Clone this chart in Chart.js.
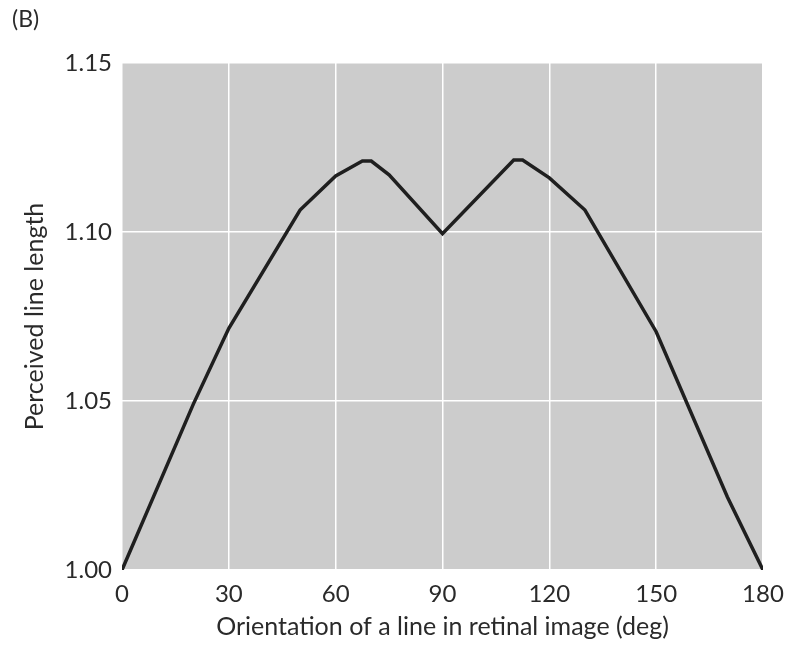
<!DOCTYPE html>
<html>
<head>
<meta charset="utf-8">
<script src="https://cdn.jsdelivr.net/npm/chart.js@4"></script>
<style>
  body { margin: 0; background: #fff; }
  #wrap { width: 795px; height: 647px; }
</style>
</head>
<body>
<div id="wrap"><canvas id="lineChart"></canvas></div>
<script>
// orientation (deg) and perceived length
const orientations = [0, 20, 30, 50, 60, 67.5, 70, 75, 90, 110, 112.5, 120, 130, 150, 170, 180];
const perceived = [1.000, 1.049, 1.0715, 1.1065, 1.1166, 1.121, 1.121, 1.1169, 1.0995, 1.1213, 1.1213, 1.116, 1.1065, 1.0705, 1.0216, 1.000];
const xTicks = [0, 30, 60, 90, 120, 150, 180];
const yTicks = [1.00, 1.05, 1.10, 1.15];

const textColor = '#2a2a2a';
const fontFamily = 'Lato, "Open Sans", sans-serif';

// grey plot background + the "(B)" panel letter
const panelDecor = {
  id: 'panelDecor',
  beforeDraw(chart) {
    const { ctx, chartArea: a } = chart;
    ctx.save();
    ctx.fillStyle = '#cccccc';
    ctx.fillRect(a.left, a.top, a.right - a.left, a.bottom - a.top);
    ctx.restore();
  },
  afterDraw(chart) {
    const ctx = chart.ctx;
    ctx.save();
    ctx.fillStyle = textColor;
    ctx.font = '23px ' + fontFamily;
    ctx.textBaseline = 'middle';
    ctx.fillText('(B)', 12, 20);
    ctx.restore();
  }
};

const ctx1 = document.getElementById('lineChart').getContext('2d');
new Chart(ctx1, {
  type: 'line',
  data: {
    datasets: [{
      data: orientations.map((d, i) => ({ x: d, y: perceived[i] })),
      borderColor: '#1f1f1f',
      borderWidth: 3.5,
      pointRadius: 0,
      tension: 0,
      fill: false
    }]
  },
  options: {
    responsive: true,
    maintainAspectRatio: false,
    animation: false,
    layout: { padding: { top: 63, right: 32, left: 0, bottom: 0 } },
    plugins: {
      legend: { display: false },
      tooltip: { enabled: false }
    },
    scales: {
      x: {
        type: 'linear',
        min: 0,
        max: 180,
        afterBuildTicks: (s) => { s.ticks = xTicks.map(v => ({ value: v })); },
        afterFit: (s) => { s.height = 77; },
        ticks: { color: textColor, font: { family: fontFamily, size: 24 }, padding: 10, maxRotation: 0 },
        grid: { color: '#ffffff', lineWidth: 1.5, drawTicks: false },
        border: { display: false },
        title: {
          display: true,
          text: 'Orientation of a line in retinal image (deg)',
          color: textColor,
          font: { family: fontFamily, size: 25 },
          padding: { top: 0, bottom: 5 }
        }
      },
      y: {
        min: 1.0,
        max: 1.15,
        afterBuildTicks: (s) => { s.ticks = yTicks.map(v => ({ value: v })); },
        afterFit: (s) => { s.width = 122; },
        ticks: {
          color: textColor,
          font: { family: fontFamily, size: 24 },
          padding: 10,
          callback: (v) => Number(v).toFixed(2)
        },
        grid: { color: '#ffffff', lineWidth: 1.5, drawTicks: false },
        border: { display: false },
        title: {
          display: true,
          text: 'Perceived line length',
          color: textColor,
          font: { family: fontFamily, size: 25 },
          padding: { top: 20, bottom: 0 }
        }
      }
    }
  },
  plugins: [panelDecor]
});
</script>
</body>
</html>
